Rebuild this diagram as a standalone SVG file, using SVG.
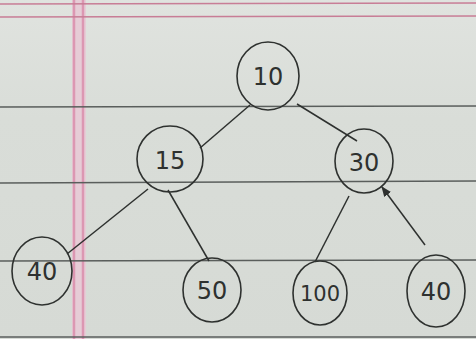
<svg xmlns="http://www.w3.org/2000/svg" width="476" height="339" viewBox="0 0 476 339">
<style>
.rule{stroke:#5a5e5c;stroke-width:1.4;fill:none}
.pink{stroke:#dc97b2;stroke-width:2.5;fill:none}
.pinkh{stroke:#c87d96;stroke-width:1.3;fill:none}
.node ellipse{fill:none;stroke:#2e312f;stroke-width:1.6}
.node text{font-family:"DejaVu Sans","Liberation Sans",sans-serif;font-size:24px;fill:#2e312f;text-anchor:middle;dominant-baseline:central}
#edges line{stroke:#2e312f;stroke-width:1.5}
</style>
<defs>
<marker id="ah" viewBox="0 0 10 10" refX="9" refY="5" markerWidth="7" markerHeight="7" orient="auto">
<path d="M0,1 L10,5 L0,9 z" fill="#2e312f"/>
</marker>
<linearGradient id="paper" x1="0" y1="0" x2="0" y2="1">
<stop offset="0" stop-color="#e0e3df"/>
<stop offset="0.35" stop-color="#d9ddd8"/>
<stop offset="1" stop-color="#d6dad5"/>
</linearGradient>
</defs>
<rect width="476" height="339" fill="url(#paper)"/>
<rect x="72" y="0" width="14" height="339" fill="#e6ccd6"/>
<line class="pink" x1="74" y1="0" x2="74" y2="339"/>
<line class="pink" x1="83" y1="0" x2="83" y2="339"/>
<line class="pinkh" x1="0" y1="4" x2="476" y2="3"/>
<line class="pinkh" x1="0" y1="17" x2="476" y2="16"/>
<line class="rule" x1="0" y1="107" x2="476" y2="106"/>
<line class="rule" x1="0" y1="183" x2="476" y2="181"/>
<line class="rule" x1="0" y1="261" x2="476" y2="260"/>
<line class="rule" x1="0" y1="337" x2="476" y2="337" stroke-width="3"/>
<g id="edges">
<line x1="250" y1="105" x2="200" y2="148"/>
<line x1="297" y1="104" x2="357" y2="141"/>
<line x1="148" y1="189" x2="67" y2="254"/>
<line x1="168" y1="190" x2="209" y2="261"/>
<line x1="349" y1="196" x2="315" y2="262"/>
<line x1="425" y1="245" x2="382" y2="187" marker-end="url(#ah)"/>
</g>
<g id="n10" class="node"><ellipse cx="268" cy="76" rx="31" ry="34"/><text x="268" y="77">10</text></g>
<g id="n15" class="node"><ellipse cx="170" cy="159" rx="33" ry="33"/><text x="170" y="161">15</text></g>
<g id="n30" class="node"><ellipse cx="364" cy="161" rx="29" ry="32"/><text x="364" y="163">30</text></g>
<g id="n40a" class="node"><ellipse cx="42" cy="271" rx="30" ry="34"/><text x="42" y="272">40</text></g>
<g id="n50" class="node"><ellipse cx="212" cy="290" rx="29" ry="32"/><text x="212" y="291">50</text></g>
<g id="n100" class="node"><ellipse cx="320" cy="293" rx="27" ry="32"/><text x="320" y="294" style="font-size:21px">100</text></g>
<g id="n40b" class="node"><ellipse cx="436" cy="291" rx="29" ry="36"/><text x="436" y="292">40</text></g>
</svg>
